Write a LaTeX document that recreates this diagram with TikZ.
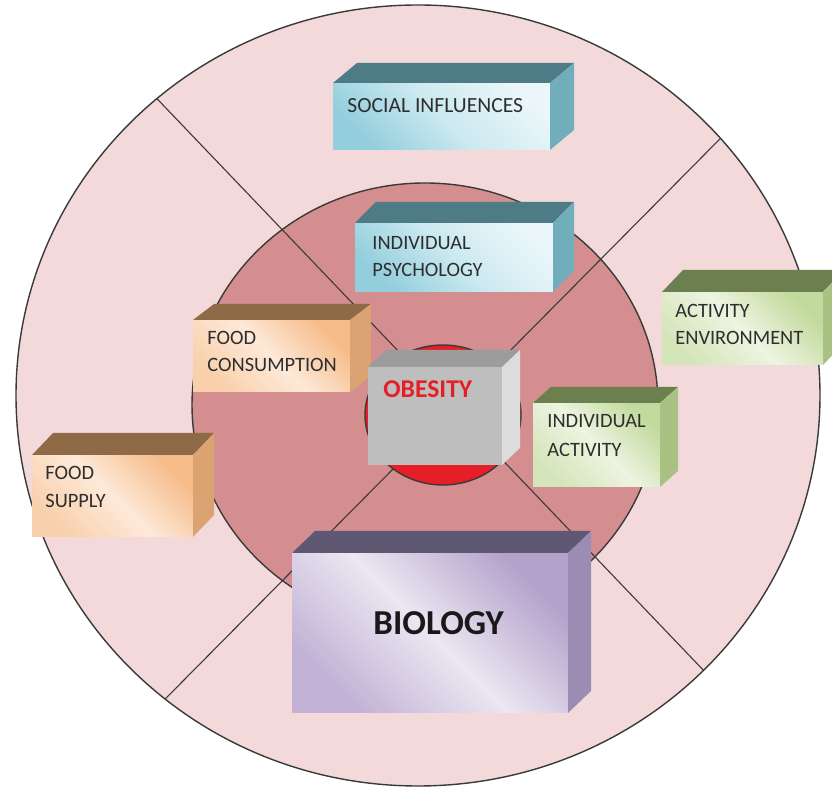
\documentclass[tikz,border=0pt]{standalone}
\usepackage{fontspec}
\setmainfont{Carlito}
\usetikzlibrary{calc}
\definecolor{outerpink}{HTML}{F3D9D9}
\definecolor{midrose}{HTML}{D48E8F}
\definecolor{innerred}{HTML}{E51E27}
\definecolor{edgecol}{HTML}{3A3A3A}
\definecolor{labeltext}{HTML}{2E2E2E}
% teal
\definecolor{tealdark}{HTML}{93CEDD}
\definecolor{tealmid}{HTML}{CBE9F0}
\definecolor{teallight}{HTML}{EAF6F9}
\definecolor{tealtopc}{HTML}{4E7C86}
\definecolor{tealsidec}{HTML}{70AEBB}
% orange
\definecolor{orgdark}{HTML}{F9D0AC}
\definecolor{orgmid}{HTML}{FDE9D8}
\definecolor{orglight}{HTML}{F6BC8A}
\definecolor{orgtopc}{HTML}{8E6A47}
\definecolor{orgsidec}{HTML}{DCA372}
% green
\definecolor{grndark}{HTML}{D4E5BA}
\definecolor{grnmid}{HTML}{EDF4E1}
\definecolor{grnlight}{HTML}{C3DA9E}
\definecolor{grntopc}{HTML}{6C7F4E}
\definecolor{grnsidec}{HTML}{A9C283}
% purple
\definecolor{purdark}{HTML}{C0B1D5}
\definecolor{purmid}{HTML}{ECE7F2}
\definecolor{purlight}{HTML}{B3A2CB}
\definecolor{purtopc}{HTML}{5F5872}
\definecolor{pursidec}{HTML}{9A8CB2}
% gray
\definecolor{grayfront}{HTML}{BEBEBE}
\definecolor{graytopc}{HTML}{9C9C9C}
\definecolor{graysidec}{HTML}{DCDCDC}

\tikzset{
  frontface/.style={rectangle, inner sep=0pt, outer sep=0pt, draw=none},
  tealfront/.style={frontface, left color=tealdark, right color=teallight, middle color=tealmid, shading angle=135},
  orgfront/.style={frontface, left color=orgdark, right color=orglight, middle color=orgmid, shading angle=135},
  grnfront/.style={frontface, left color=grndark, right color=grnlight, middle color=grnmid, shading angle=135},
  purfront/.style={frontface, left color=purdark, right color=purlight, middle color=purmid, shading angle=135},
  grayfrontst/.style={frontface, fill=grayfront},
  tealtop/.style={fill=tealtopc}, tealside/.style={fill=tealsidec},
  orgtop/.style={fill=orgtopc}, orgside/.style={fill=orgsidec},
  grntop/.style={fill=grntopc}, grnside/.style={fill=grnsidec},
  purtop/.style={fill=purtopc}, purside/.style={fill=pursidec},
  graytop/.style={fill=graytopc}, grayside/.style={fill=graysidec},
  lbl/.style={anchor=base west, inner sep=0pt, text=labeltext, font=\fontsize{10.2}{12}\selectfont},
  ring/.style={draw=edgecol, line width=0.7pt},
  divider/.style={draw=edgecol, line width=0.55pt},
}

% #1 name, #2 x, #3 y (front top-left, px), #4 width, #5 height, #6 dx, #7 dy (up), #8 front style, #9 colour family
\newcommand\cuboidbox[9]{%
  \node[#8, minimum width=#4*0.5pt, minimum height=#5*0.5pt, anchor=north west] (#1) at (#2,#3) {};
  \fill[#9top] (#1.north west) -- ++(#6,-#7) -- ([shift={(#6,-#7)}]#1.north east) -- (#1.north east) -- cycle;
  \fill[#9side] (#1.north east) -- ++(#6,-#7) -- ([shift={(#6,-#7)}]#1.south east) -- (#1.south east) -- cycle;
}

\begin{document}
\begin{tikzpicture}[x=0.5pt, y=-0.5pt]
\useasboundingbox (0,0) rectangle (832,790);
\clip (0,0) rectangle (832,790);
\fill[white] (0,0) rectangle (832,790);

% rings
\fill[outerpink] (418,395.5) ellipse [x radius=402, y radius=390.5];
\fill[midrose] (425,405) ellipse [x radius=233, y radius=222];
\draw[ring] (425,405) ellipse [x radius=233, y radius=222];

% dividing lines
\coordinate (d1a) at (76,14);
\coordinate (d1b) at (794,765);
\coordinate (d2a) at (808,50);
\coordinate (d2b) at (80,785);
\begin{scope}
  \clip (418,395.5) ellipse [x radius=402, y radius=390.5];
  \draw[divider] (d1a) -- (d1b);
  \draw[divider] (d2a) -- (d2b);
\end{scope}
\draw[ring] (418,395.5) ellipse [x radius=402, y radius=390.5];

% inner red circle
\fill[innerred] (443,415) ellipse [x radius=78, y radius=70];
\draw[ring] (443,415) ellipse [x radius=78, y radius=70];

% boxes
\cuboidbox{soc}{333}{83}{217}{67}{24}{20}{tealfront}{teal}
\node[lbl, font=\fontsize{10.8}{12}\selectfont] (socT) at (347,113) {SOCIAL INFLUENCES};

\cuboidbox{psy}{355}{223}{198}{69}{21}{21}{tealfront}{teal}
\node[lbl] (psyT1) at (372,250) {INDIVIDUAL};
\node[lbl] (psyT2) at (372,277) {PSYCHOLOGY};

\cuboidbox{cons}{193}{320}{157}{72}{21}{16}{orgfront}{org}
\node[lbl] (consT1) at (207,345) {FOOD};
\node[lbl] (consT2) at (207,372) {CONSUMPTION};

\cuboidbox{supp}{32}{455}{161}{82}{21}{22}{orgfront}{org}
\node[lbl] (suppT1) at (45,480) {FOOD};
\node[lbl] (suppT2) at (45,508) {SUPPLY};

\cuboidbox{env}{662}{292}{161}{73}{21}{22}{grnfront}{grn}
\node[lbl] (envT1) at (675,318) {ACTIVITY};
\node[lbl] (envT2) at (675,345) {ENVIRONMENT};

\cuboidbox{act}{533}{403}{127}{84}{18}{16}{grnfront}{grn}
\node[lbl] (actT1) at (547,428) {INDIVIDUAL};
\node[lbl] (actT2) at (547,457) {ACTIVITY};

\cuboidbox{obes}{368}{367}{134}{98}{18}{17}{grayfrontst}{gray}
\node[anchor=base west, inner sep=0pt, text=innerred, font=\fontsize{12.8}{14}\selectfont\bfseries] (obesT) at (383,398) {OBESITY};

\cuboidbox{bio}{292}{553}{276}{160}{23}{22}{purfront}{pur}
\node[anchor=base west, inner sep=0pt, text=black!90, font=\fontsize{17.5}{20}\selectfont\bfseries] (bioT) at (373,635) {BIOLOGY};
\end{tikzpicture}
\end{document}
